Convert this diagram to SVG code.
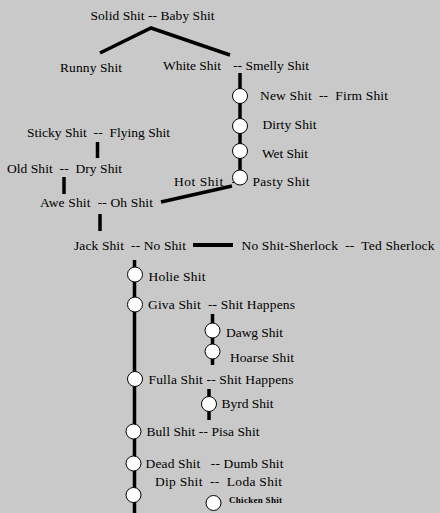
<svg xmlns="http://www.w3.org/2000/svg" width="440" height="513" viewBox="0 0 440 513">
<style>
text{font-family:"Liberation Serif","Times New Roman",serif;font-size:13.5px;fill:#000;white-space:pre}
.small{font-size:9px;font-weight:bold}
.ln{stroke:#000;stroke-width:3.5;fill:none;stroke-linecap:butt}
.dot{fill:#fff;stroke:#000;stroke-width:1}
</style>
<rect width="440" height="513" fill="#c8c9c8"/>
<g id="connectors">
<polyline class="ln" points="100,53 151,28 230,55"/>
<line class="ln" x1="240" y1="73" x2="240" y2="178"/>
<line class="ln" x1="161" y1="202" x2="232" y2="186"/>
<line class="ln" x1="97.5" y1="142" x2="97.5" y2="158"/>
<line class="ln" x1="64" y1="177" x2="64" y2="194"/>
<line class="ln" x1="100" y1="214" x2="100" y2="231"/>
<line class="ln" x1="193" y1="245" x2="233" y2="245" style="stroke-width:4"/>
<line class="ln" x1="134.5" y1="260" x2="134.5" y2="513"/>
<line class="ln" x1="212.5" y1="314" x2="212.5" y2="365"/>
<line class="ln" x1="209" y1="389" x2="209" y2="420"/>
</g>
<g id="n-solid"><text x="90.5" y="20" textLength="124">Solid Shit -- Baby Shit</text></g>
<g id="n-runny"><text x="60" y="72" textLength="62">Runny Shit</text></g>
<g id="n-white"><text x="163" y="69.5" textLength="58">White Shit</text><text x="233" y="69.5" textLength="76">-- Smelly Shit</text></g>
<g id="n-new"><circle class="dot" cx="240" cy="96" r="7.5"/><text x="260" y="99.5" textLength="128">New Shit  --  Firm Shit</text></g>
<g id="n-dirty"><circle class="dot" cx="240" cy="126" r="7.5"/><text x="262.5" y="129" textLength="54">Dirty Shit</text></g>
<g id="n-wet"><circle class="dot" cx="240" cy="151" r="7.5"/><text x="262" y="158" textLength="46">Wet Shit</text></g>
<g id="n-pasty"><text x="174" y="185.5" textLength="62">Hot Shit  -</text><circle class="dot" cx="240" cy="177.5" r="7.5"/><text x="252.5" y="185.5" textLength="57">Pasty Shit</text></g>
<g id="n-sticky"><text x="27" y="136.5" textLength="143">Sticky Shit  --  Flying Shit</text></g>
<g id="n-old"><text x="7" y="173" textLength="115">Old Shit  --  Dry Shit</text></g>
<g id="n-awe"><text x="40" y="207" textLength="113">Awe Shit  -- Oh Shit</text></g>
<g id="n-jack"><text x="74" y="250" textLength="112">Jack Shit  -- No Shit</text></g>
<g id="n-sherlock"><text x="241.5" y="250" textLength="193">No Shit-Sherlock  --  Ted Sherlock</text></g>
<g id="n-holie"><circle class="dot" cx="135" cy="274.5" r="7.5"/><text x="148.5" y="281" textLength="57">Holie Shit</text></g>
<g id="n-giva"><circle class="dot" cx="135" cy="304.5" r="7.5"/><text x="148" y="308.5" textLength="147">Giva Shit  -- Shit Happens</text></g>
<g id="n-dawg"><circle class="dot" cx="212.5" cy="330.5" r="7.5"/><text x="226" y="336.5" textLength="57">Dawg Shit</text></g>
<g id="n-hoarse"><circle class="dot" cx="212.5" cy="351.5" r="7.5"/><text x="230" y="361.5" textLength="64">Hoarse Shit</text></g>
<g id="n-fulla"><circle class="dot" cx="135" cy="379" r="7.5"/><text x="148.5" y="383.5" textLength="145">Fulla Shit -- Shit Happens</text></g>
<g id="n-byrd"><circle class="dot" cx="209" cy="404" r="7.5"/><text x="221.5" y="407.5" textLength="52">Byrd Shit</text></g>
<g id="n-bull"><circle class="dot" cx="133.5" cy="431.5" r="7.5"/><text x="146.5" y="436" textLength="113">Bull Shit -- Pisa Shit</text></g>
<g id="n-dead"><circle class="dot" cx="133.5" cy="463.5" r="7.5"/><text x="145.5" y="467.5" textLength="138">Dead Shit   -- Dumb Shit</text></g>
<g id="n-dip"><circle class="dot" cx="133.5" cy="495" r="7.5"/><text x="155" y="486" textLength="127">Dip Shit  --  Loda Shit</text></g>
<g id="n-chicken"><circle class="dot" cx="213.5" cy="503" r="7.5"/><text class="small" x="229" y="502.5" textLength="53">Chicken Shit</text></g>
</svg>
